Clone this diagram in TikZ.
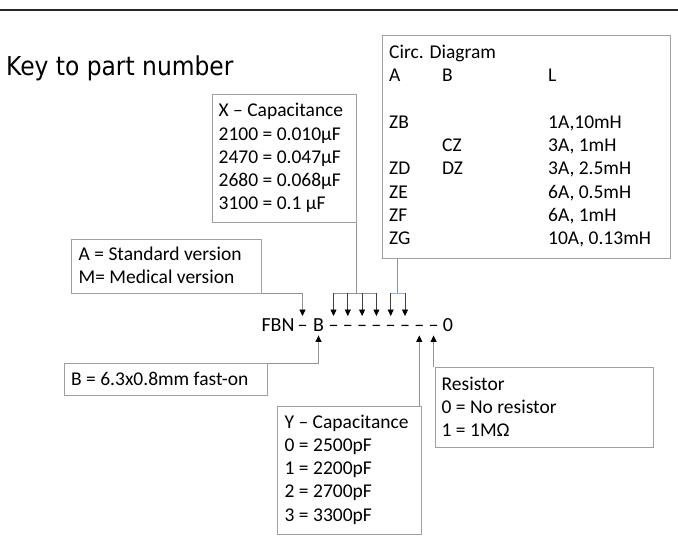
\documentclass[tikz,border=0pt]{standalone}
\usepackage{fontspec}
\setmainfont{Carlito}
\newfontfamily\titlefont{DejaVu Sans Condensed}
\usetikzlibrary{arrows.meta}
\definecolor{boxgray}{HTML}{A0A0A0}
\definecolor{conngray}{HTML}{939393}
\definecolor{barblue}{HTML}{8EB4E3}
\tikzset{
  keybox/.style={draw=boxgray, line width=0.9pt, inner sep=0pt, anchor=north west},
  keytext/.style={inner sep=0pt, anchor=base west, font=\fontsize{19.5}{23.3}\selectfont},
  rowch/.style={inner sep=0pt, anchor=base, text height=15.5pt, text depth=3.5pt, font=\fontsize{20}{24}\selectfont},
  trunk/.style={draw=conngray, line width=0.9pt},
  tipend/.style={-{Triangle[width=6pt,length=6.5pt,color=black]}},
  shaft/.style={draw=black!75, line width=0.7pt, tipend},
}
\begin{document}
\begin{tikzpicture}[x=1pt,y=-1pt]
\useasboundingbox (0,0) rectangle (678,542);
% top rule
\coordinate (tl) at (0,10);
\coordinate (tr) at (678,10);
\draw[line width=1.5pt, black!85] (tl) -- (tr);
% title
\node[inner sep=0pt, anchor=base west, font=\titlefont\fontsize{26}{30}\selectfont] (title) at (6,75) {Key to part number};
% boxes
\node[keybox, minimum width=144pt, minimum height=128pt] (xbox) at (212,94) {};
\node[keytext] (xtext) at (218.5,116.7) {\begin{tabular}[t]{@{}l@{}}X – Capacitance\\2100 = 0.010µF\\2470 = 0.047µF\\2680 = 0.068µF\\3100 = 0.1 µF\end{tabular}};
\node[keybox, minimum width=288pt, minimum height=223pt] (cbox) at (382,35) {};
\node[keytext] (ctext) at (389,58.3) {\begin{tabular}[t]{@{}p{53pt}@{}p{106pt}@{}l@{}}\multicolumn{3}{@{}l@{}}{Circ. Diagram}\\
A & B & L\\
 & & \\
ZB & & 1A,10mH\\
 & CZ & 3A, 1mH\\
ZD & DZ & 3A, 2.5mH\\
ZE & & 6A, 0.5mH\\
ZF & & 6A, 1mH\\
ZG & & 10A, 0.13mH\end{tabular}};
\node[keybox, minimum width=190pt, minimum height=54pt] (abox) at (71,239) {};
\node[keytext] (atext) at (78.5,260) {\begin{tabular}[t]{@{}l@{}}A = Standard version\\M= Medical version\end{tabular}};
\node[keybox, minimum width=203pt, minimum height=32pt] (bbox) at (64,363) {};
\node[keytext] (btext) at (71,385) {B = 6.3x0.8mm fast-on};
\node[keybox, minimum width=144pt, minimum height=128pt] (ybox) at (277,406) {};
\node[keytext] (ytext) at (284.5,428) {\begin{tabular}[t]{@{}l@{}}Y – Capacitance\\0 = 2500pF\\1 = 2200pF\\2 = 2700pF\\3 = 3300pF\end{tabular}};
\node[keybox, minimum width=218pt, minimum height=80pt] (rbox) at (435,367) {};
\node[keytext] (rtext) at (441.5,390) {\begin{tabular}[t]{@{}l@{}}Resistor\\0 = No resistor\\1 = 1MΩ\end{tabular}};
% part number row
\node[rowch] (fbn) at (278,331.7) {FBN};
\node[rowch] (d0) at (302.5,331.7) {–};
\node[rowch] (b) at (318.5,331.7) {B};
\foreach \i in {1,...,8} {
  \node[rowch] (d\i) at ({333.5+14.3*(\i-1)},331.7) {–};
}
\node[rowch] (zero) at (448,331.7) {0};
% connectors
\draw[trunk, tipend] (abox.south east) -| (d0.north);
\draw[trunk, tipend] (bbox.north east) -| (b.south);
\coordinate (xj) at (xbox.south east |- 0,293);
\draw[trunk] (xbox.south east) -- (xj);
\draw[trunk] (d1 |- xj) -- (d4 |- xj);
\foreach \i in {1,...,4} {
  \draw[shaft] (d\i |- xj) -- (d\i.north);
}
\coordinate (cj) at (397.75,293);
\draw[trunk] (cj |- cbox.south) -- (cj);
\draw[draw=barblue, line width=0.9pt] (d5 |- cj) -- (d6 |- cj);
\foreach \i in {5,6} {
  \draw[shaft] (d\i |- cj) -- (d\i.north);
}
\draw[trunk, tipend] (d7 |- ybox.north) -- (d7.south);
\draw[trunk, tipend] (d8 |- rbox.north) -- (d8.south);
\end{tikzpicture}
\end{document}
